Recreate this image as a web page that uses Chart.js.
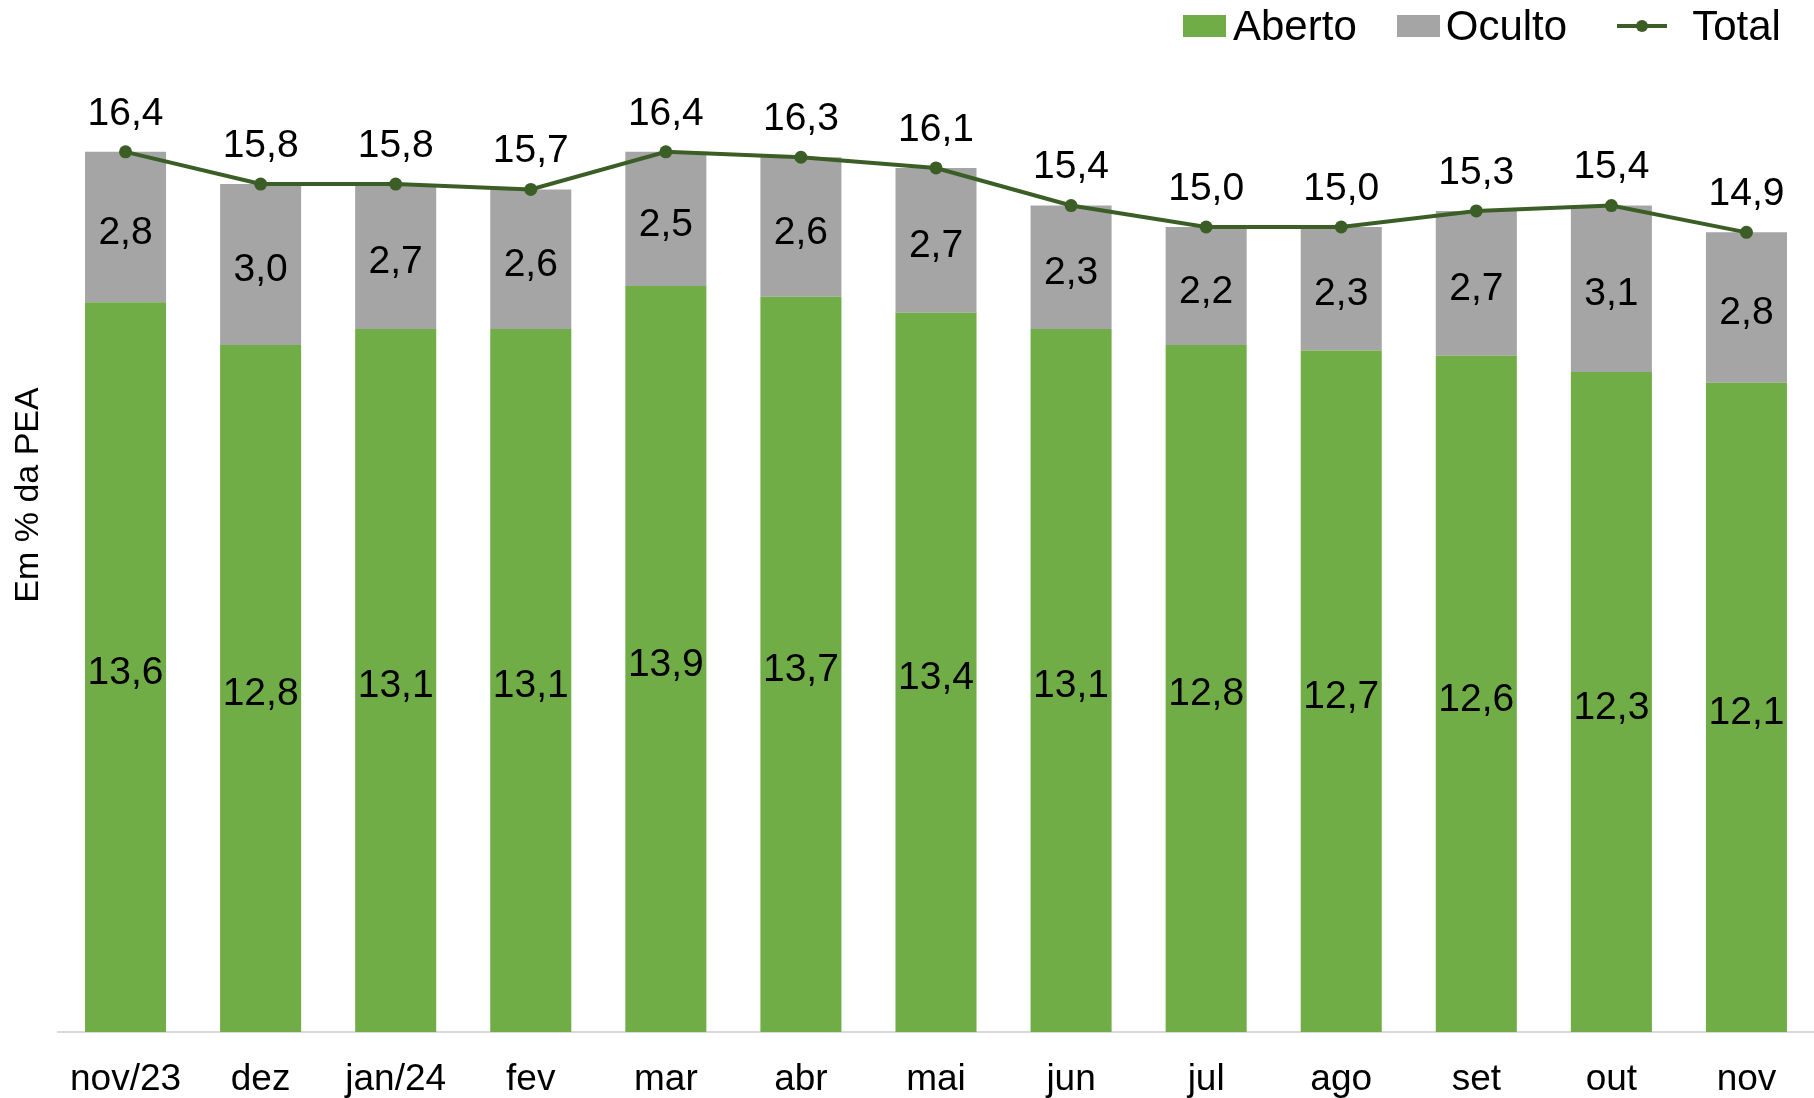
<!DOCTYPE html>
<html><head><meta charset="utf-8">
<script src="https://cdn.jsdelivr.net/npm/chart.js@4"></script>
<style>
html,body{margin:0;padding:0;background:#fff;}
#wrap{position:relative;width:1814px;height:1098px;}
canvas{position:absolute;left:0;top:0;}
#legend{position:absolute;top:5px;left:1183px;height:42px;display:flex;align-items:center;font-family:'Liberation Sans',Arial,sans-serif;font-size:42px;color:#000;white-space:nowrap;}
#legend .box{display:inline-block;width:43px;height:22px;}
#legend .ln{position:relative;display:inline-block;width:50px;height:4px;}
#legend .ln i{position:absolute;left:19px;top:-4px;width:12px;height:12px;border-radius:50%;}
</style></head><body>
<div id="wrap"><canvas id="c" width="1814" height="1098"></canvas><div id="legend"></div></div>
<script>
const categories = ['nov/23','dez','jan/24','fev','mar','abr','mai','jun','jul','ago','set','out','nov'];
const aberto = [13.6,12.8,13.1,13.1,13.9,13.7,13.4,13.1,12.8,12.7,12.6,12.3,12.1];
const oculto = [2.8,3.0,2.7,2.6,2.5,2.6,2.7,2.3,2.2,2.3,2.7,3.1,2.8];
const total = [16.4,15.8,15.8,15.7,16.4,16.3,16.1,15.4,15.0,15.0,15.3,15.4,14.9];
const seriesNames = ['Aberto','Oculto','Total'];
const yTitle = 'Em % da PEA';

const GREEN = '#70AD47', GRAY = '#A5A5A5', LINE = '#3B5E27';
const FONT = "'Liberation Sans', Arial, sans-serif";
const fmt = v => v.toFixed(1).replace('.', ',');

const labelPlugin = {
  id: 'valueLabels',
  afterDatasetsDraw(chart) {
    const ctx = chart.ctx;
    ctx.save();
    ctx.font = '39px ' + FONT;
    ctx.fillStyle = '#000';
    ctx.textAlign = 'center';
    ctx.textBaseline = 'middle';
    chart.data.datasets.forEach((ds, i) => {
      const meta = chart.getDatasetMeta(i);
      meta.data.forEach((el, j) => {
        const txt = fmt(ds.data[j]);
        if (ds.type === 'line') ctx.fillText(txt, el.x, el.y - 38);
        else ctx.fillText(txt, el.x, (el.y + el.base) / 2 + 6);
      });
    });
    ctx.translate(29, 495);
    ctx.rotate(-Math.PI / 2);
    ctx.font = '34px ' + FONT;
    ctx.fillText(yTitle, 0, 0);
    ctx.restore();
  }
};

const chart = new Chart(document.getElementById('c'), {
  data: {
    labels: categories,
    datasets: [
      { type: 'line', label: seriesNames[2], data: total, borderColor: LINE, backgroundColor: LINE,
        borderWidth: 4, pointRadius: 6.5, pointBackgroundColor: LINE, pointBorderColor: LINE, pointBorderWidth: 0,
        tension: 0, order: 0, stack: 'total' },
      { type: 'bar', label: seriesNames[0], data: aberto, backgroundColor: GREEN, order: 1, stack: 's',
        categoryPercentage: 1, barPercentage: 0.6 },
      { type: 'bar', label: seriesNames[1], data: oculto, backgroundColor: GRAY, order: 1, stack: 's',
        categoryPercentage: 1, barPercentage: 0.6 }
    ]
  },
  options: {
    responsive: false,
    animation: false,
    devicePixelRatio: 1,
    layout: { autoPadding: false, padding: { top: 66, left: 58, right: 0, bottom: 0 } },
    plugins: { legend: { display: false }, tooltip: { enabled: false } },
    scales: {
      x: {
        stacked: true,
        grid: { display: false, drawTicks: false },
        border: { display: true, color: '#D9D9D9', width: 2 },
        ticks: { color: '#000', font: { family: FONT, size: 37 }, padding: 26, maxRotation: 0, autoSkip: false },
        afterFit(scale) { scale.height = 66; scale.paddingLeft = 0; scale.paddingRight = 0; }
      },
      y: { stacked: true, display: false, min: 0, max: 18 }
    }
  },
  plugins: [labelPlugin]
});

// legend built from series names and colours
const lg = document.getElementById('legend');
const items = [
  { name: seriesNames[0], kind: 'box', color: GREEN, gapBefore: 0, gapText: 7 },
  { name: seriesNames[1], kind: 'box', color: GRAY, gapBefore: 40, gapText: 6 },
  { name: seriesNames[2], kind: 'line', color: LINE, gapBefore: 50, gapText: 25 }
];
items.forEach(it => {
  const sym = document.createElement('span');
  if (it.kind === 'box') { sym.className = 'box'; sym.style.background = it.color; }
  else { sym.className = 'ln'; sym.style.background = it.color; const d = document.createElement('i'); d.style.background = it.color; sym.appendChild(d); }
  sym.style.marginLeft = it.gapBefore + 'px';
  const t = document.createElement('span');
  t.textContent = it.name;
  t.style.marginLeft = it.gapText + 'px';
  lg.appendChild(sym); lg.appendChild(t);
});
</script>
</body></html>
